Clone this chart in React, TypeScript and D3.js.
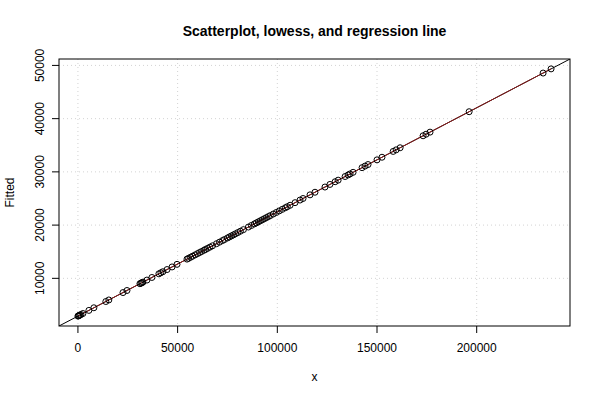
import React from 'react';
import * as d3 from 'd3';

// x values
const xValues = [
  0, 300, 600, 1000, 1500, 2500, 5500, 8000, 14000, 15500, 22600, 24600, 31100, 31600, 32100,
  32600, 34600, 37100, 40600, 41600, 42600, 44700, 47200, 49700, 54700, 55500, 56500, 57500,
  58800, 60000, 61000, 62000, 63200, 64000, 65000, 66200, 67500, 69500, 71000, 72500, 73500,
  75000, 76000, 77000, 78000, 79000, 80200, 81500, 83000, 85500, 87000, 88500, 89500, 90500,
  91500, 92500, 93500, 94500, 95500, 96500, 98000, 99500, 101000, 102500, 104000, 105000,
  106400, 108900, 111400, 112900, 116400, 118900, 123900, 126400, 129000, 130500, 134000,
  135500, 136500, 138000, 142500, 144000, 145500, 150000, 152500, 158100, 159600, 161600,
  173100, 174600, 176600, 196200, 233300, 237300,
];

// fitted values, same order
const fittedValues = [
  2905, 2964, 3022, 3101, 3199, 3394, 3981, 4471, 5645, 5938, 7328, 7719, 8991, 9089, 9187,
  9285, 9676, 10166, 10850, 11046, 11242, 11653, 12142, 12632, 13610, 13766, 13962, 14158,
  14412, 14647, 14843, 15038, 15273, 15430, 15626, 15860, 16115, 16506, 16800, 17093, 17289,
  17583, 17778, 17974, 18170, 18365, 18600, 18855, 19148, 19637, 19931, 20224, 20420, 20616,
  20812, 21007, 21203, 21399, 21594, 21790, 22084, 22377, 22671, 22964, 23258, 23453,
  23727, 24217, 24706, 24999, 25684, 26174, 27152, 27642, 28150, 28444, 29129,
  29422, 29618, 29912, 30792, 31086, 31379, 32260, 32749, 33845, 34139, 34530,
  36781, 37074, 37466, 41301, 48563, 49346,
];

const xTicks = [0, 50000, 100000, 150000, 200000];
const yTicks = [10000, 20000, 30000, 40000, 50000];

// regression coefficients
const intercept = 2905;
const slope = 0.1957;

const W = 600;
const H = 400;
const left = 59;
const right = 570;
const top = 59;
const bottom = 326;

const font = '"Liberation Sans", Arial, Helvetica, sans-serif';

const App: React.FC = () => {
  const xMin = d3.min(xValues)!;
  const xMax = d3.max(xValues)!;
  const yMin = d3.min(fittedValues)!;
  const yMax = d3.max(fittedValues)!;
  const xPad = (xMax - xMin) * 0.04;
  const yPad = (yMax - yMin) * 0.04;

  const x = d3.scaleLinear().domain([xMin - xPad, xMax + xPad]).range([left, right]);
  const y = d3.scaleLinear().domain([yMin - yPad, yMax + yPad]).range([bottom, top]);

  const points = xValues.map((v, i) => ({ x: v, y: fittedValues[i] }));
  const sorted = [...points].sort((a, b) => a.x - b.x);

  const line = d3
    .line<{ x: number; y: number }>()
    .x((d) => x(d.x))
    .y((d) => y(d.y));

  const [d0, d1] = x.domain();
  const regPath = line([
    { x: d0, y: intercept + slope * d0 },
    { x: d1, y: intercept + slope * d1 },
  ]);

  return (
    <div style={{ position: 'absolute', left: 0, top: 0 }}>
      <svg width={W} height={H} style={{ display: 'block', background: '#fff' }}>
        <defs>
          <clipPath id="plotClip">
            <rect x={left} y={top} width={right - left} height={bottom - top} />
          </clipPath>
        </defs>

        {/* grid */}
        <g stroke="#d3d3d3" strokeWidth={1} strokeDasharray="1,3">
          {xTicks.map((t) => (
            <line key={'gx' + t} x1={x(t)} x2={x(t)} y1={top} y2={bottom} />
          ))}
          {yTicks.map((t) => (
            <line key={'gy' + t} x1={left} x2={right} y1={y(t)} y2={y(t)} />
          ))}
        </g>

        {/* regression + lowess */}
        <g clipPath="url(#plotClip)" fill="none">
          <path d={regPath || ''} stroke="#000" strokeWidth={1} />
          <path d={line(sorted) || ''} stroke="#8b1a1a" strokeWidth={1} />
        </g>

        {/* points */}
        <g fill="none" stroke="#000" strokeWidth={1}>
          {points.map((p, i) => (
            <circle key={i} cx={x(p.x)} cy={y(p.y)} r={3} />
          ))}
        </g>

        {/* box */}
        <rect x={left} y={top} width={right - left} height={bottom - top} fill="none" stroke="#000" strokeWidth={1} />

        {/* x axis */}
        <g fontFamily={font} fontSize={12} fill="#000">
          {xTicks.map((t) => (
            <g key={'xt' + t}>
              <line x1={x(t)} x2={x(t)} y1={bottom} y2={bottom + 7} stroke="#000" />
              <text x={x(t)} y={bottom + 26} textAnchor="middle">
                {t}
              </text>
            </g>
          ))}
          <text x={(left + right) / 2} y={381} textAnchor="middle">
            x
          </text>
        </g>

        {/* y axis */}
        <g fontFamily={font} fontSize={12} fill="#000">
          {yTicks.map((t) => (
            <g key={'yt' + t}>
              <line x1={left - 7} x2={left} y1={y(t)} y2={y(t)} stroke="#000" />
              <text transform={`translate(${left - 15},${y(t)}) rotate(-90)`} textAnchor="middle">
                {t}
              </text>
            </g>
          ))}
          <text transform={`translate(14,${(top + bottom) / 2}) rotate(-90)`} textAnchor="middle">
            Fitted
          </text>
        </g>

        <text
          x={(left + right) / 2}
          y={36}
          textAnchor="middle"
          fontFamily={font}
          fontSize={14}
          fontWeight="bold"
        >
          Scatterplot, lowess, and regression line
        </text>
      </svg>
    </div>
  );
};

export default App;
